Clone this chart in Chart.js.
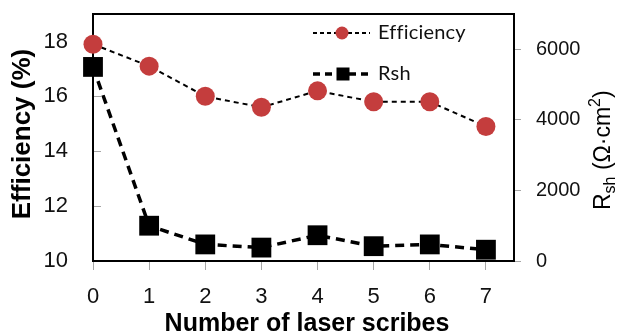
<!DOCTYPE html>
<html>
<head>
<meta charset="utf-8">
<script src="https://cdn.jsdelivr.net/npm/chart.js@4/dist/chart.umd.min.js"></script>
<style>
  html, body { margin: 0; padding: 0; background: #fff; }
  canvas { display: block; }
</style>
</head>
<body>
<canvas id="c" width="625" height="335"></canvas>
<script>
// Laser scribe count vs. cell efficiency and shunt resistance
const scribes = [0, 1, 2, 3, 4, 5, 6, 7];
const efficiency = [17.9, 17.1, 16.0, 15.6, 16.2, 15.8, 15.8, 14.9];
const rsh = [5500, 1000, 470, 380, 730, 420, 470, 320];
const effTicks = [10, 12, 14, 16, 18];
const rshTicks = [0, 2000, 4000, 6000];

const ARIAL = "'Liberation Sans', Arial, sans-serif";
const RED = '#C43D3D';
const TICK_GREY = '#a6a6a6';

const toPoints = (ys) => scribes.map((x, i) => ({ x: x, y: ys[i] }));
const fixedTicks = (vals) => (scale) => { scale.ticks = vals.map(v => ({ value: v })); };
const plainLabel = (v) => String(v);

// Fixed axis band sizes, no extra edge padding from tick labels
const fitTo = (prop, size) => (s) => {
  s[prop] = size;
  s.paddingTop = 0; s.paddingBottom = 0;
  s.paddingLeft = 0; s.paddingRight = 0;
};

// Box around the plot area
const framePlugin = {
  id: 'frame',
  beforeDatasetsDraw(chart) {
    const { ctx, chartArea: a } = chart;
    ctx.save();
    ctx.strokeStyle = '#000';
    ctx.lineWidth = 2;
    ctx.strokeRect(a.left, a.top, a.right - a.left, a.bottom - a.top);
    ctx.restore();
  }
};

// Axis titles and the in-plot legend
const labelsPlugin = {
  id: 'labels',
  afterDraw(chart) {
    const ctx = chart.ctx;
    ctx.save();
    ctx.fillStyle = '#000';

    // left title
    ctx.save();
    ctx.translate(30, 134);
    ctx.rotate(-Math.PI / 2);
    ctx.font = 'bold 26px ' + ARIAL;
    ctx.textAlign = 'center';
    ctx.textBaseline = 'alphabetic';
    ctx.fillText('Efficiency (%)', 0, 0);
    ctx.restore();

    // bottom title
    ctx.font = 'bold 25px ' + ARIAL;
    ctx.textAlign = 'center';
    ctx.textBaseline = 'alphabetic';
    ctx.fillText('Number of laser scribes', 307, 331);

    // right title with subscript / superscript
    ctx.save();
    ctx.translate(610, 210);
    ctx.rotate(-Math.PI / 2);
    ctx.textAlign = 'left';
    ctx.textBaseline = 'alphabetic';
    const parts = [
      { t: 'R', size: 23, dy: 0 },
      { t: 'sh', size: 16, dy: 5 },
      { t: ' (\u03A9\u00B7cm', size: 23, dy: 0 },
      { t: '2', size: 16, dy: -10 },
      { t: ')', size: 23, dy: 0 }
    ];
    let px = 0;
    parts.forEach(p => {
      ctx.font = p.size + 'px ' + ARIAL;
      ctx.fillText(p.t, px, p.dy);
      px += ctx.measureText(p.t).width;
    });
    ctx.restore();

    // legend
    const lx0 = 313, lx1 = 370, tx = 378;
    const y1 = 33, y2 = 74;
    ctx.strokeStyle = '#000';
    ctx.lineWidth = 2;
    ctx.setLineDash([4, 3]);
    ctx.beginPath(); ctx.moveTo(lx0, y1); ctx.lineTo(lx1, y1); ctx.stroke();
    ctx.lineWidth = 3.5;
    ctx.setLineDash([7, 5]);
    ctx.beginPath(); ctx.moveTo(lx0, y2); ctx.lineTo(lx1, y2); ctx.stroke();
    ctx.setLineDash([]);
    ctx.fillStyle = RED;
    ctx.beginPath(); ctx.arc(342, y1, 6.5, 0, Math.PI * 2); ctx.fill();
    ctx.fillStyle = '#000';
    ctx.fillRect(343 - 6.5, y2 - 6.5, 13, 13);
    ctx.font = "20px Lato, 'Open Sans', sans-serif";
    ctx.letterSpacing = '0.2px';
    ctx.textAlign = 'left';
    ctx.textBaseline = 'middle';
    ctx.fillStyle = '#111';
    ctx.fillText('Efficiency', tx, y1);
    ctx.fillText('Rsh', tx, y2);

    ctx.restore();
  }
};

new Chart(document.getElementById('c'), {
  type: 'line',
  data: {
    datasets: [
      {
        label: 'Efficiency',
        data: toPoints(efficiency),
        yAxisID: 'yL',
        borderColor: '#000',
        borderWidth: 2,
        borderDash: [5, 4],
        pointStyle: 'circle',
        pointRadius: 9.5,
        pointBorderWidth: 0,
        pointBackgroundColor: RED,
        pointBorderColor: RED,
        clip: false,
        order: 2
      },
      {
        label: 'Rsh',
        data: toPoints(rsh),
        yAxisID: 'yR',
        borderColor: '#000',
        borderWidth: 3.5,
        borderDash: [9, 6],
        pointStyle: 'rect',
        pointRadius: 14,
        pointBorderWidth: 0,
        pointBackgroundColor: '#000',
        pointBorderColor: '#000',
        clip: false,
        order: 1
      }
    ]
  },
  options: {
    responsive: false,
    animation: false,
    events: [],
    layout: { padding: { top: 13.5, left: 0, right: 0, bottom: 0 } },
    plugins: { legend: { display: false }, tooltip: { enabled: false } },
    scales: {
      x: {
        type: 'linear',
        position: 'bottom',
        min: 0,
        max: 7.5,
        afterBuildTicks: fixedTicks(scribes),
        afterFit: fitTo('height', 74),
        border: { display: false },
        grid: { drawOnChartArea: false, drawTicks: true, tickLength: 9, color: TICK_GREY, lineWidth: 1 },
        ticks: { padding: 14, color: '#111', font: { family: ARIAL, size: 22 }, callback: plainLabel }
      },
      yL: {
        type: 'linear',
        position: 'left',
        min: 10,
        max: 19,
        afterBuildTicks: fixedTicks(effTicks),
        afterFit: fitTo('width', 93),
        border: { display: false },
        grid: { drawOnChartArea: false, drawTicks: true, tickLength: -8, color: TICK_GREY, lineWidth: 1 },
        ticks: { padding: 33, color: '#111', font: { family: ARIAL, size: 22 }, callback: plainLabel }
      },
      yR: {
        type: 'linear',
        position: 'right',
        min: 0,
        max: 7000,
        afterBuildTicks: fixedTicks(rshTicks),
        afterFit: fitTo('width', 111),
        border: { display: false },
        grid: { drawOnChartArea: false, drawTicks: true, tickLength: 7, color: TICK_GREY, lineWidth: 1 },
        ticks: { padding: 15, color: '#111', font: { family: ARIAL, size: 20 }, callback: plainLabel }
      }
    }
  },
  plugins: [framePlugin, labelsPlugin]
});
</script>
</body>
</html>
